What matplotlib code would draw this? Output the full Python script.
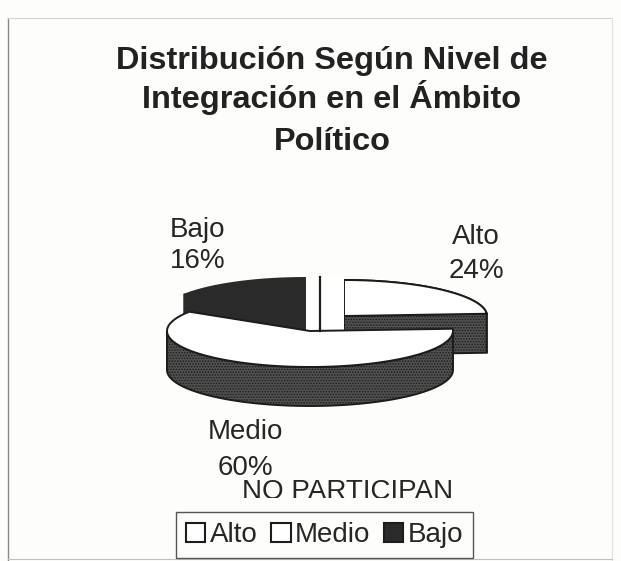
import numpy as np
import matplotlib
matplotlib.use("Agg")
import matplotlib.pyplot as plt
from matplotlib.patches import Patch, Polygon, Rectangle
from matplotlib.transforms import Bbox

plt.rcParams["font.family"] = ["Liberation Sans", "DejaVu Sans"]
plt.rcParams["hatch.linewidth"] = 0.7
plt.rcParams["hatch.color"] = "#8a8a8a"

TITLE_LINES = ["Distribución Según Nivel de", "Integración en el Ámbito", "Político"]
TITLE_Y = [69, 108, 150]
CATEGORIES = ["Alto", "Medio", "Bajo"]
SHARES = [24, 60, 16]

RX, RY, DEPTH = 143, 36, 39
CENTERS = {"Alto": (344, 316), "Medio": (310, 331), "Bajo": (305, 314)}
# x, baseline of the name line, baseline of the percent line
LABEL_POS = {"Alto": (476, 244, 278), "Medio": (245, 439, 475), "Bajo": (198, 237, 268)}
INK = "#1c1c1c"
SIDE = "#505050"
DARK = "#2a2a2a"
PAPER = "#fdfdfb"
TEXT = "#262626"


def arc(center, a0, a1, n=80):
    # angles run clockwise from north, the y axis points down
    t = np.radians(np.linspace(a0, a1, n))
    return np.column_stack([center[0] + RX * np.sin(t), center[1] - RY * np.cos(t)])


def draw_slice(ax, name, a0, a1, top, side, side_hatch):
    c = CENTERS[name]
    rim = arc(c, a0, a1)
    # outer wall only where the rim faces the viewer
    lo, hi = max(a0, 90), min(a1, 270)
    if name == "Alto":
        lo, hi = a0, a1
    line = DARK if name == "Bajo" else INK
    if lo < hi:
        wall = arc(c, lo, hi)
        drop = wall + [0, DEPTH]
        ax.add_patch(Polygon(np.vstack([wall, drop[::-1]]), facecolor=side, edgecolor=line,
                             linewidth=1.4, hatch=side_hatch))
    if name == "Alto":
        # straight cut wall toward the centre
        cut = np.array([c, rim[-1], rim[-1] + [0, DEPTH], [c[0], c[1] + DEPTH]])
        ax.add_patch(Polygon(cut, facecolor=side, edgecolor=INK, linewidth=1.4, hatch=side_hatch))
    if name == "Bajo":
        cut = np.array([c, rim[0], rim[0] + [0, DEPTH], [c[0], c[1] + DEPTH]])
        ax.add_patch(Polygon(cut, facecolor=side, edgecolor=line, linewidth=1.4))
    ax.add_patch(Polygon(np.vstack([[c], rim]), facecolor=top, edgecolor=line, linewidth=1.4))


fig = plt.figure(figsize=(6.21, 5.61), dpi=100, facecolor=PAPER)
ax = fig.add_axes([0, 0, 1, 1])
ax.set_xlim(0, 621)
ax.set_ylim(561, 0)
ax.axis("off")

# scanned page frame
ax.plot([8, 8], [18, 561], color="#888888", lw=1.0)
ax.plot([8, 612], [18, 18], color="#d4d4d4", lw=0.8)
ax.plot([612, 612], [18, 561], color="#e0e0e0", lw=0.8)
ax.plot([8, 612], [559, 559], color="#c0c0c0", lw=0.8)

for line, y in zip(TITLE_LINES, TITLE_Y):
    ax.text(332, y, line, ha="center", va="baseline", fontsize=23.4, fontweight="bold", color="#222222")

# slice angles come from the shares, drawn back to front
edges = np.concatenate([[0], np.cumsum(SHARES)]) * 3.6
ang = {n: (edges[i], edges[i + 1]) for i, n in enumerate(CATEGORIES)}

draw_slice(ax, "Alto", *ang["Alto"], "white", SIDE, "......")

# pale inner walls in the gap between the Bajo and Alto slices
ax.add_patch(Rectangle((305, 278), 39, 53, facecolor="white", edgecolor="none"))
draw_slice(ax, "Bajo", *ang["Bajo"], DARK, DARK, None)
draw_slice(ax, "Medio", *ang["Medio"], "white", SIDE, "......")
ax.plot([320, 320], [277, 331], color=INK, lw=1.6)

for name, share in zip(CATEGORIES, SHARES):
    x, y0, y1 = LABEL_POS[name]
    ax.text(x, y0, name, ha="center", va="baseline", fontsize=20, color=TEXT)
    ax.text(x, y1, f"{share}%", ha="center", va="baseline", fontsize=20, color=TEXT)

note = ax.text(348, 499, "NO PARTICIPAN", ha="center", va="baseline", fontsize=20, color=TEXT)
note.set_clip_box(Bbox([[0, 561 - 498], [621, 561]]))
note.set_clip_on(True)

handles = [Patch(facecolor="white", edgecolor=INK, linewidth=1.5),
           Patch(facecolor="white", edgecolor=INK, linewidth=1.5),
           Patch(facecolor=DARK, edgecolor=INK, linewidth=1.5)]
leg = ax.legend(handles, CATEGORIES, ncol=3, loc="center", bbox_to_anchor=(324.5, 535),
                bbox_transform=ax.transData, fontsize=20, frameon=True, fancybox=False,
                edgecolor="#555555", facecolor=PAPER, framealpha=1, handlelength=0.7,
                handleheight=0.7, handletextpad=0.15, columnspacing=0.5, borderpad=0.35,
                borderaxespad=0, labelcolor=TEXT)
leg.get_frame().set_linewidth(1.0)

fig.savefig("out.png", dpi=100, facecolor=PAPER)
plt.close(fig)
